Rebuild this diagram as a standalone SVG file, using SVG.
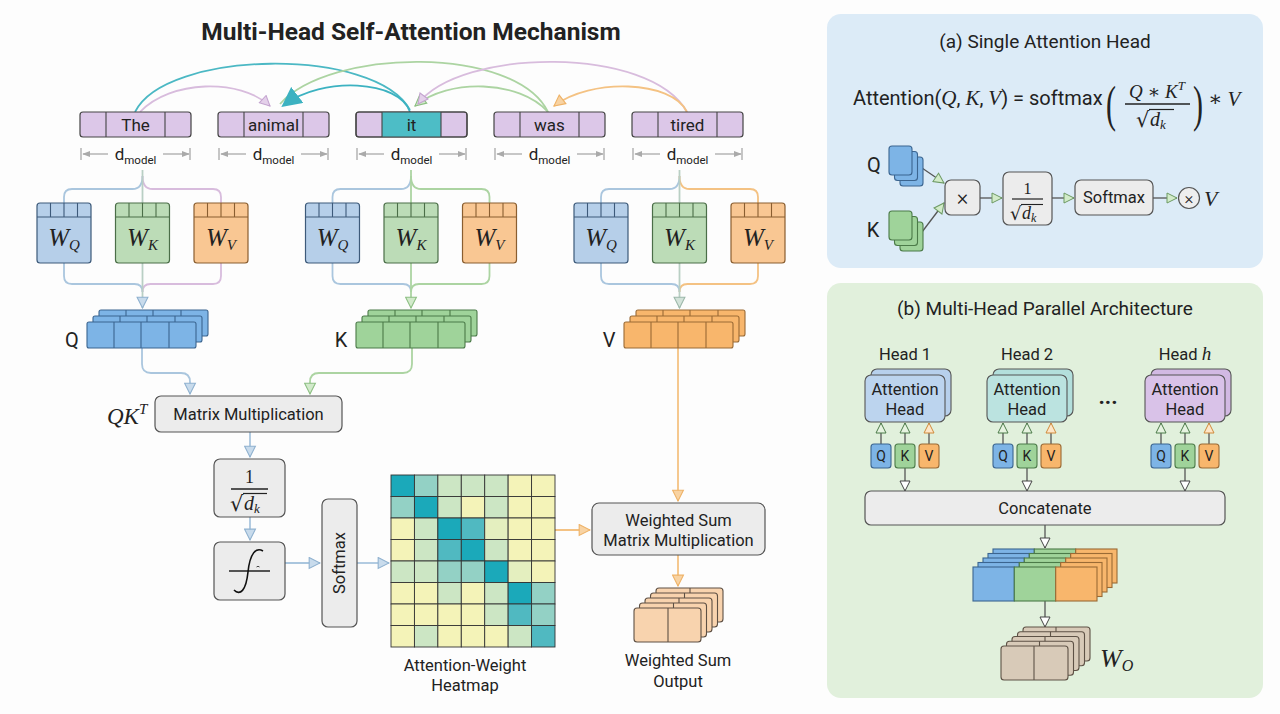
<svg xmlns="http://www.w3.org/2000/svg" width="1280" height="714" viewBox="0 0 1280 714">
<defs>
<style>
.s{font-family:Roboto,"Liberation Sans",sans-serif;fill:#222}
.m{font-family:"Liberation Serif","DejaVu Serif",serif;font-style:italic;fill:#222}
.box{fill:#ececec;stroke:#555;stroke-width:1.2}
.tok{fill:#dcc7e8;stroke:#444;stroke-width:1.2}
.dv{stroke:#444;stroke-width:1.1}
.c{fill:none;stroke-width:1.8}
.cb{stroke:#aac6de}.cg{stroke:#acd4a2}.co{stroke:#f4c283}.cp{stroke:#d8bcdd}.cgr{stroke:#b9cfc4}
.dm{stroke:#aaa;stroke-width:1.3;fill:none}
.qf{fill:#7db4e6;stroke:#3b6590;stroke-width:1.1}
.kf{fill:#9fd39a;stroke:#4b7a48;stroke-width:1.1}
.vf{fill:#f8b66c;stroke:#9a6a35;stroke-width:1.1}
.pf{fill:#f8d3ae;stroke:#5e5044;stroke-width:1.1}
.wf{fill:#d8cab8;stroke:#5e5246;stroke-width:1.1}
.hc rect{stroke:#333;stroke-width:0.9}
.D{fill:#1ba9ba}.M{fill:#50b9c1}.L{fill:#93d1c5}.P{fill:#cce6c4}.E{fill:#e4efbf}.Y{fill:#f4f3b8}
.ln{stroke:#555;stroke-width:1.3;fill:none}
</style>
<marker id="mB" viewBox="0 0 12 12" refX="11" refY="6" markerWidth="13" markerHeight="13" markerUnits="userSpaceOnUse" orient="auto"><path d="M1,1 L11,6 L1,11 z" fill="#c8dbec" stroke="#8fb1cf"/></marker>
<marker id="mG" viewBox="0 0 12 12" refX="11" refY="6" markerWidth="13" markerHeight="13" markerUnits="userSpaceOnUse" orient="auto"><path d="M1,1 L11,6 L1,11 z" fill="#d2eacb" stroke="#8cbf82"/></marker>
<marker id="mGr" viewBox="0 0 12 12" refX="11" refY="6" markerWidth="13" markerHeight="13" markerUnits="userSpaceOnUse" orient="auto"><path d="M1,1 L11,6 L1,11 z" fill="#d3e3da" stroke="#9cb8aa"/></marker>
<marker id="mO" viewBox="0 0 12 12" refX="11" refY="6" markerWidth="13" markerHeight="13" markerUnits="userSpaceOnUse" orient="auto"><path d="M1,1 L11,6 L1,11 z" fill="#f8d3a3" stroke="#eeb267"/></marker>
<marker id="mP" viewBox="0 0 12 12" refX="11" refY="6" markerWidth="12" markerHeight="12" markerUnits="userSpaceOnUse" orient="auto"><path d="M1,1 L11,6 L1,11 z" fill="#e4d0ea" stroke="#c3a3cf"/></marker>
<marker id="mT" viewBox="0 0 12 12" refX="10" refY="6" markerWidth="20" markerHeight="20" markerUnits="userSpaceOnUse" orient="auto"><path d="M0,0 L12,6 L0,12 z" fill="#3cb2c1"/></marker>
<marker id="mD" viewBox="0 0 10 10" refX="9" refY="5" markerWidth="8" markerHeight="8" markerUnits="userSpaceOnUse" orient="auto"><path d="M0,1 L10,5 L0,9 z" fill="#aaa"/></marker>
<marker id="mA" viewBox="0 0 12 12" refX="11" refY="6" markerWidth="12" markerHeight="12" markerUnits="userSpaceOnUse" orient="auto"><path d="M1,1 L11,6 L1,11 z" fill="#d2ebc9" stroke="#6d9a63"/></marker>
<marker id="mW" viewBox="0 0 12 12" refX="11" refY="6" markerWidth="12" markerHeight="12" markerUnits="userSpaceOnUse" orient="auto"><path d="M1,1 L11,6 L1,11 z" fill="#fff" stroke="#444"/></marker>
<marker id="mKg" viewBox="0 0 12 12" refX="11" refY="6" markerWidth="12" markerHeight="12" markerUnits="userSpaceOnUse" orient="auto"><path d="M1,1 L11,6 L1,11 z" fill="#e6f3e0" stroke="#4b7a48"/></marker>
<marker id="mKo" viewBox="0 0 12 12" refX="11" refY="6" markerWidth="12" markerHeight="12" markerUnits="userSpaceOnUse" orient="auto"><path d="M1,1 L11,6 L1,11 z" fill="#fde6c8" stroke="#d08a3a"/></marker>
</defs>
<rect width="1280" height="714" fill="#fdfdfd"/>

<text class="s" x="411" y="40" font-size="24.5" font-weight="bold" text-anchor="middle">Multi-Head Self-Attention Mechanism</text>

<!-- Panel backgrounds and titles -->
<g id="panel-a">
  <rect x="827" y="14" width="436" height="254" rx="14" fill="#dcebf7"/>
  <text class="s" x="1045" y="48" font-size="19" text-anchor="middle">(a) Single Attention Head</text>
  <text class="s" x="853" y="105" font-size="20">Attention(<tspan class="m" font-size="21">Q</tspan>, <tspan class="m" font-size="21">K</tspan>, <tspan class="m" font-size="21">V</tspan>) = softmax</text>
  <text transform="translate(1106,121) scale(1,1.7)" font-size="30" font-family="Liberation Serif,serif" fill="#222">(</text>
  <text class="m" x="1157" y="98" font-size="19" text-anchor="middle">Q <tspan font-style="normal">∗</tspan> K<tspan font-size="13" dy="-8">T</tspan></text>
  <path d="M1125,104 H1190" stroke="#222" stroke-width="1.3"/>
  <text x="1136" y="127" font-size="21" font-family="DejaVu Sans,sans-serif" fill="#222">√</text>
  <path d="M1149,109.5 H1174" stroke="#222" stroke-width="1.2"/>
  <text class="m" x="1150" y="126" font-size="20">d<tspan font-size="13" dy="3">k</tspan></text>
  <text transform="translate(1193,121) scale(1,1.7)" font-size="30" font-family="Liberation Serif,serif" fill="#222">)</text>
  <text class="m" x="1208" y="106" font-size="21"><tspan font-style="normal">∗</tspan> V</text>
</g>
<g id="panel-b">
  <rect x="827" y="283" width="436" height="415" rx="14" fill="#e1f0dc"/>
  <text class="s" x="1045" y="315" font-size="19" text-anchor="middle">(b) Multi-Head Parallel Architecture</text>
  <text class="s" x="1108" y="404" font-size="22" font-weight="bold" text-anchor="middle">...</text>
</g>

<!-- connectors -->
<g id="connectors">
  <path class="c" stroke="#4bb8c4" stroke-width="3" d="M135,112 C165,50 375,46 410,110"/>
  <path class="c cp" stroke-width="1.6" d="M140,112 C170,80 240,78 270,106" marker-end="url(#mP)"/>
  <path class="c cg" stroke-width="1.8" d="M548,112 C515,45 330,48 280,104"/>
  <path class="c cg" stroke-width="1.8" d="M548,112 C520,80 448,78 415,106" marker-end="url(#mG)"/>
  <path class="c cp" stroke-width="1.6" d="M687,112 C650,45 460,48 418,104" marker-end="url(#mP)"/>
  <path class="c co" stroke-width="1.8" d="M687,112 C672,80 590,78 554,106" marker-end="url(#mO)"/>
  <path class="c" stroke="#3cb2c1" stroke-width="5.5" d="M410,112 C400,80 322,76 284,105" marker-end="url(#mT)"/>

  <g class="dm">
    <path d="M81,148 V160 M190,148 V160"/>
    <path d="M219,148 V160 M328,148 V160"/>
    <path d="M357,148 V160 M466,148 V160"/>
    <path d="M495,148 V160 M604,148 V160"/>
    <path d="M633,148 V160 M742,148 V160"/>
    <path d="M108,154 H83" marker-end="url(#mD)"/><path d="M163,154 H189" marker-end="url(#mD)"/>
    <path d="M246,154 H221" marker-end="url(#mD)"/><path d="M301,154 H327" marker-end="url(#mD)"/>
    <path d="M384,154 H359" marker-end="url(#mD)"/><path d="M439,154 H465" marker-end="url(#mD)"/>
    <path d="M522,154 H497" marker-end="url(#mD)"/><path d="M577,154 H603" marker-end="url(#mD)"/>
    <path d="M660,154 H635" marker-end="url(#mD)"/><path d="M715,154 H741" marker-end="url(#mD)"/>
  </g>

  <path class="c cb" d="M142.5,176 Q142.5,189 132.5,189 H72 Q64,189 64,197 V203"/>
  <path class="c cp" d="M142.5,176 Q142.5,189 152.5,189 H213 Q221,189 221,197 V203"/>
  <path class="c cgr" d="M142.5,170 V203"/>
  <path class="c cb" d="M411,176 Q411,189 401,189 H340.5 Q332.5,189 332.5,197 V203"/>
  <path class="c cg" d="M411,176 Q411,189 421,189 H481.5 Q489.5,189 489.5,197 V203"/>
  <path class="c cg" d="M411,170 V203"/>
  <path class="c cb" d="M679.5,176 Q679.5,189 669.5,189 H609 Q601,189 601,197 V203"/>
  <path class="c co" d="M679.5,176 Q679.5,189 689.5,189 H750 Q758,189 758,197 V203"/>
  <path class="c cgr" d="M679.5,170 V203"/>

  <path class="c cb" d="M64,263 V276 Q64,284 72,284 H134.5 Q142.5,284 142.5,292"/>
  <path class="c cp" d="M221,263 V276 Q221,284 213,284 H150.5 Q142.5,284 142.5,292"/>
  <path class="c cgr" d="M142.5,263 V308" marker-end="url(#mB)"/>
  <path class="c cb" d="M332.5,263 V276 Q332.5,284 340.5,284 H403 Q411,284 411,292"/>
  <path class="c cg" d="M489.5,263 V276 Q489.5,284 481.5,284 H419 Q411,284 411,292"/>
  <path class="c cg" d="M411,263 V308" marker-end="url(#mG)"/>
  <path class="c cb" d="M601,263 V276 Q601,284 609,284 H671.5 Q679.5,284 679.5,292"/>
  <path class="c co" d="M758,263 V276 Q758,284 750,284 H687.5 Q679.5,284 679.5,292"/>
  <path class="c cgr" d="M679.5,263 V308" marker-end="url(#mGr)"/>

  <path class="c cb" d="M142,348 V364 Q142,373 151,373 H181 Q190,373 190,382 V394" marker-end="url(#mB)"/>
  <path class="c cg" d="M412,348 V364 Q412,373 403,373 H319 Q310,373 310,382 V394" marker-end="url(#mG)"/>
  <path class="c cb" d="M250,432 V457" marker-end="url(#mB)"/>
  <path class="c cb" d="M250,517 V540" marker-end="url(#mB)"/>
  <path class="c cb" d="M285,563 H320" marker-end="url(#mB)"/>
  <path class="c cb" d="M357,563 H389" marker-end="url(#mB)"/>
  <path class="c co" d="M555,530 H590" marker-end="url(#mO)"/>
  <path class="c co" d="M678,348 V501" marker-end="url(#mO)"/>
  <path class="c co" d="M678,555 V586" marker-end="url(#mO)"/>

  <path class="ln" stroke="#5d7a5a" d="M922,168 L944,183" marker-end="url(#mA)"/>
  <path class="ln" stroke="#5d7a5a" d="M922,232 L944,203" marker-end="url(#mA)"/>
  <path class="ln" stroke="#5d7a5a" d="M980,198 H1002" marker-end="url(#mA)"/>
  <path class="ln" stroke="#5d7a5a" d="M1052,198 H1074" marker-end="url(#mA)"/>
  <path class="ln" stroke="#5d7a5a" d="M1153,198 H1177" marker-end="url(#mA)"/>

  <path class="ln" d="M881,444 V423" marker-end="url(#mKg)"/>
  <path class="ln" d="M905,444 V423" marker-end="url(#mKg)"/>
  <path class="ln" d="M929,444 V423" marker-end="url(#mKo)"/>
  <path class="ln" d="M1003,444 V423" marker-end="url(#mKg)"/>
  <path class="ln" d="M1027,444 V423" marker-end="url(#mKg)"/>
  <path class="ln" d="M1051,444 V423" marker-end="url(#mKo)"/>
  <path class="ln" d="M1161,444 V423" marker-end="url(#mKg)"/>
  <path class="ln" d="M1185,444 V423" marker-end="url(#mKg)"/>
  <path class="ln" d="M1209,444 V423" marker-end="url(#mKo)"/>
  <path class="ln" d="M905,468 V491" marker-end="url(#mW)"/>
  <path class="ln" d="M1027,468 V491" marker-end="url(#mW)"/>
  <path class="ln" d="M1185,468 V491" marker-end="url(#mW)"/>
  <path class="ln" d="M1045,525 V548" marker-end="url(#mW)"/>
  <path class="ln" d="M1045,601 V627" marker-end="url(#mW)"/>
</g>

<!-- tokens -->
<g id="tok-the"><rect class="tok" x="80" y="112" width="111" height="25" rx="3"/><path class="dv" d="M106,112 V137 M165,112 V137"/><text class="s" x="135.5" y="130.5" font-size="17" text-anchor="middle">The</text></g>
<g id="tok-animal"><rect class="tok" x="218" y="112" width="111" height="25" rx="3"/><path class="dv" d="M244,112 V137 M303,112 V137"/><text class="s" x="273.5" y="130.5" font-size="17" text-anchor="middle">animal</text></g>
<g id="tok-it"><rect class="tok" x="356" y="112" width="111" height="25" rx="3"/><rect x="382" y="112" width="59" height="25" fill="#4dbdc6"/><path class="dv" d="M382,112 V137 M441,112 V137"/><rect x="356" y="112" width="111" height="25" rx="3" fill="none" stroke="#444" stroke-width="1.2"/><text class="s" x="411.5" y="130.5" font-size="17" text-anchor="middle">it</text></g>
<g id="tok-was"><rect class="tok" x="494" y="112" width="111" height="25" rx="3"/><path class="dv" d="M520,112 V137 M579,112 V137"/><text class="s" x="549.5" y="130.5" font-size="17" text-anchor="middle">was</text></g>
<g id="tok-tired"><rect class="tok" x="632" y="112" width="111" height="25" rx="3"/><path class="dv" d="M658,112 V137 M717,112 V137"/><text class="s" x="687.5" y="130.5" font-size="17" text-anchor="middle">tired</text></g>

<g id="dmodel-labels" class="s" font-size="17" text-anchor="middle">
  <text x="135.5" y="160">d<tspan font-size="11.5" dy="4">model</tspan></text>
  <text x="273.5" y="160">d<tspan font-size="11.5" dy="4">model</tspan></text>
  <text x="411.5" y="160">d<tspan font-size="11.5" dy="4">model</tspan></text>
  <text x="549.5" y="160">d<tspan font-size="11.5" dy="4">model</tspan></text>
  <text x="687.5" y="160">d<tspan font-size="11.5" dy="4">model</tspan></text>
</g>

<!-- W matrices -->
<g id="w-group1">
  <rect x="37" y="203" width="54" height="60" rx="3" fill="#b6cfe9" stroke="#3d5a7a" stroke-width="1.2"/><path d="M37,217 H91 M50.5,203 V217 M64,203 V217 M77.5,203 V217" stroke="#3d5a7a" stroke-width="1.1"/>
  <text class="m" x="64" y="246" font-size="25" text-anchor="middle">W<tspan font-size="15" dy="4">Q</tspan></text>
  <rect x="115.5" y="203" width="54" height="60" rx="3" fill="#bcdcb7" stroke="#4b6e48" stroke-width="1.2"/><path d="M115.5,217 H169.5 M129,203 V217 M142.5,203 V217 M156,203 V217" stroke="#4b6e48" stroke-width="1.1"/>
  <text class="m" x="142.5" y="246" font-size="25" text-anchor="middle">W<tspan font-size="15" dy="4">K</tspan></text>
  <rect x="194" y="203" width="54" height="60" rx="3" fill="#f9c793" stroke="#8a5e30" stroke-width="1.2"/><path d="M194,217 H248 M207.5,203 V217 M221,203 V217 M234.5,203 V217" stroke="#8a5e30" stroke-width="1.1"/>
  <text class="m" x="221" y="246" font-size="25" text-anchor="middle">W<tspan font-size="15" dy="4">V</tspan></text>
</g>
<g id="w-group2">
  <rect x="305.5" y="203" width="54" height="60" rx="3" fill="#b6cfe9" stroke="#3d5a7a" stroke-width="1.2"/><path d="M305.5,217 H359.5 M319,203 V217 M332.5,203 V217 M346,203 V217" stroke="#3d5a7a" stroke-width="1.1"/>
  <text class="m" x="332.5" y="246" font-size="25" text-anchor="middle">W<tspan font-size="15" dy="4">Q</tspan></text>
  <rect x="384" y="203" width="54" height="60" rx="3" fill="#bcdcb7" stroke="#4b6e48" stroke-width="1.2"/><path d="M384,217 H438 M397.5,203 V217 M411,203 V217 M424.5,203 V217" stroke="#4b6e48" stroke-width="1.1"/>
  <text class="m" x="411" y="246" font-size="25" text-anchor="middle">W<tspan font-size="15" dy="4">K</tspan></text>
  <rect x="462.5" y="203" width="54" height="60" rx="3" fill="#f9c793" stroke="#8a5e30" stroke-width="1.2"/><path d="M462.5,217 H516.5 M476,203 V217 M489.5,203 V217 M503,203 V217" stroke="#8a5e30" stroke-width="1.1"/>
  <text class="m" x="489.5" y="246" font-size="25" text-anchor="middle">W<tspan font-size="15" dy="4">V</tspan></text>
</g>
<g id="w-group3">
  <rect x="574" y="203" width="54" height="60" rx="3" fill="#b6cfe9" stroke="#3d5a7a" stroke-width="1.2"/><path d="M574,217 H628 M587.5,203 V217 M601,203 V217 M614.5,203 V217" stroke="#3d5a7a" stroke-width="1.1"/>
  <text class="m" x="601" y="246" font-size="25" text-anchor="middle">W<tspan font-size="15" dy="4">Q</tspan></text>
  <rect x="652.5" y="203" width="54" height="60" rx="3" fill="#bcdcb7" stroke="#4b6e48" stroke-width="1.2"/><path d="M652.5,217 H706.5 M666,203 V217 M679.5,203 V217 M693,203 V217" stroke="#4b6e48" stroke-width="1.1"/>
  <text class="m" x="679.5" y="246" font-size="25" text-anchor="middle">W<tspan font-size="15" dy="4">K</tspan></text>
  <rect x="731" y="203" width="54" height="60" rx="3" fill="#f9c793" stroke="#8a5e30" stroke-width="1.2"/><path d="M731,217 H785 M744.5,203 V217 M758,203 V217 M771.5,203 V217" stroke="#8a5e30" stroke-width="1.1"/>
  <text class="m" x="758" y="246" font-size="25" text-anchor="middle">W<tspan font-size="15" dy="4">V</tspan></text>
</g>

<!-- Q K V stacks -->
<g id="q-stack">
  <rect class="qf" x="99" y="310" width="109" height="26" rx="2"/><path class="qf" d="M126,310 V336 M153,310 V336 M181,310 V336"/>
  <rect class="qf" x="93" y="316" width="109" height="26" rx="2"/><path class="qf" d="M120,316 V342 M147,316 V342 M175,316 V342"/>
  <rect class="qf" x="87" y="322" width="109" height="26" rx="2"/><path class="qf" d="M114,322 V348 M141,322 V348 M169,322 V348"/>
  <text class="s" x="72" y="347" font-size="20" text-anchor="middle">Q</text>
</g>
<g id="k-stack">
  <rect class="kf" x="368" y="310" width="109" height="26" rx="2"/><path class="kf" d="M395,310 V336 M422,310 V336 M450,310 V336"/>
  <rect class="kf" x="362" y="316" width="109" height="26" rx="2"/><path class="kf" d="M389,316 V342 M416,316 V342 M444,316 V342"/>
  <rect class="kf" x="356" y="322" width="109" height="26" rx="2"/><path class="kf" d="M383,322 V348 M410,322 V348 M438,322 V348"/>
  <text class="s" x="341" y="347" font-size="20" text-anchor="middle">K</text>
</g>
<g id="v-stack">
  <rect class="vf" x="636" y="310" width="109" height="26" rx="2"/><path class="vf" d="M663,310 V336 M690,310 V336 M718,310 V336"/>
  <rect class="vf" x="630" y="316" width="109" height="26" rx="2"/><path class="vf" d="M657,316 V342 M684,316 V342 M712,316 V342"/>
  <rect class="vf" x="624" y="322" width="109" height="26" rx="2"/><path class="vf" d="M651,322 V348 M678,322 V348 M706,322 V348"/>
  <text class="s" x="609" y="347" font-size="20" text-anchor="middle">V</text>
</g>

<g id="matmul">
  <rect class="box" x="155" y="396" width="187" height="36" rx="6"/>
  <text class="s" x="248.5" y="420" font-size="16.5" text-anchor="middle">Matrix Multiplication</text>
  <text class="m" x="107" y="424" font-size="23">QK<tspan font-size="15" dy="-10">T</tspan></text>
</g>
<g id="scale">
  <rect class="box" x="214" y="459" width="71" height="58" rx="6"/>
  <text x="249.5" y="483" font-size="18" font-family="Liberation Serif,serif" fill="#222" text-anchor="middle">1</text>
  <path d="M231,489 H268" stroke="#222" stroke-width="1.3"/>
  <text x="230" y="511" font-size="21" font-family="DejaVu Sans,sans-serif" fill="#222">√</text>
  <path d="M243,493.5 H267" stroke="#222" stroke-width="1.2"/>
  <text class="m" x="244" y="510" font-size="20">d<tspan font-size="13" dy="3">k</tspan></text>
</g>
<g id="sigmoid">
  <rect class="box" x="214" y="542" width="71" height="58" rx="6"/>
  <path d="M229,571 H270" stroke="#222" stroke-width="1.4" fill="none"/>
  <path d="M234,590 C240,596 246,591 248,572 C250,553 256,547 263,551" stroke="#111" stroke-width="1.6" fill="none"/>
  <path d="M256.5,567 q1.5,-1.5 3,0" stroke="#333" stroke-width="0.9" fill="none"/>
</g>
<g id="softmax">
  <rect class="box" x="322" y="499" width="35" height="128" rx="6"/>
  <text class="s" transform="translate(345,563) rotate(-90)" font-size="16.5" text-anchor="middle">Softmax</text>
</g>

<g id="heatmap" class="hc">
  <rect class="D" x="391" y="475" width="23.43" height="21.5"/><rect class="L" x="414.43" y="475" width="23.43" height="21.5"/><rect class="P" x="437.86" y="475" width="23.43" height="21.5"/><rect class="P" x="461.29" y="475" width="23.43" height="21.5"/><rect class="P" x="484.71" y="475" width="23.43" height="21.5"/><rect class="Y" x="508.14" y="475" width="23.43" height="21.5"/><rect class="Y" x="531.57" y="475" width="23.43" height="21.5"/>
  <rect class="L" x="391" y="496.5" width="23.43" height="21.5"/><rect class="D" x="414.43" y="496.5" width="23.43" height="21.5"/><rect class="P" x="437.86" y="496.5" width="23.43" height="21.5"/><rect class="Y" x="461.29" y="496.5" width="23.43" height="21.5"/><rect class="P" x="484.71" y="496.5" width="23.43" height="21.5"/><rect class="Y" x="508.14" y="496.5" width="23.43" height="21.5"/><rect class="Y" x="531.57" y="496.5" width="23.43" height="21.5"/>
  <rect class="Y" x="391" y="518" width="23.43" height="21.5"/><rect class="P" x="414.43" y="518" width="23.43" height="21.5"/><rect class="D" x="437.86" y="518" width="23.43" height="21.5"/><rect class="M" x="461.29" y="518" width="23.43" height="21.5"/><rect class="E" x="484.71" y="518" width="23.43" height="21.5"/><rect class="Y" x="508.14" y="518" width="23.43" height="21.5"/><rect class="Y" x="531.57" y="518" width="23.43" height="21.5"/>
  <rect class="Y" x="391" y="539.5" width="23.43" height="21.5"/><rect class="P" x="414.43" y="539.5" width="23.43" height="21.5"/><rect class="M" x="437.86" y="539.5" width="23.43" height="21.5"/><rect class="D" x="461.29" y="539.5" width="23.43" height="21.5"/><rect class="P" x="484.71" y="539.5" width="23.43" height="21.5"/><rect class="Y" x="508.14" y="539.5" width="23.43" height="21.5"/><rect class="Y" x="531.57" y="539.5" width="23.43" height="21.5"/>
  <rect class="P" x="391" y="561" width="23.43" height="21.5"/><rect class="P" x="414.43" y="561" width="23.43" height="21.5"/><rect class="L" x="437.86" y="561" width="23.43" height="21.5"/><rect class="L" x="461.29" y="561" width="23.43" height="21.5"/><rect class="D" x="484.71" y="561" width="23.43" height="21.5"/><rect class="E" x="508.14" y="561" width="23.43" height="21.5"/><rect class="Y" x="531.57" y="561" width="23.43" height="21.5"/>
  <rect class="Y" x="391" y="582.5" width="23.43" height="21.5"/><rect class="Y" x="414.43" y="582.5" width="23.43" height="21.5"/><rect class="P" x="437.86" y="582.5" width="23.43" height="21.5"/><rect class="Y" x="461.29" y="582.5" width="23.43" height="21.5"/><rect class="P" x="484.71" y="582.5" width="23.43" height="21.5"/><rect class="D" x="508.14" y="582.5" width="23.43" height="21.5"/><rect class="L" x="531.57" y="582.5" width="23.43" height="21.5"/>
  <rect class="Y" x="391" y="604" width="23.43" height="21.5"/><rect class="Y" x="414.43" y="604" width="23.43" height="21.5"/><rect class="Y" x="437.86" y="604" width="23.43" height="21.5"/><rect class="Y" x="461.29" y="604" width="23.43" height="21.5"/><rect class="P" x="484.71" y="604" width="23.43" height="21.5"/><rect class="M" x="508.14" y="604" width="23.43" height="21.5"/><rect class="L" x="531.57" y="604" width="23.43" height="21.5"/>
  <rect class="Y" x="391" y="625.5" width="23.43" height="21.5"/><rect class="P" x="414.43" y="625.5" width="23.43" height="21.5"/><rect class="Y" x="437.86" y="625.5" width="23.43" height="21.5"/><rect class="Y" x="461.29" y="625.5" width="23.43" height="21.5"/><rect class="Y" x="484.71" y="625.5" width="23.43" height="21.5"/><rect class="P" x="508.14" y="625.5" width="23.43" height="21.5"/><rect class="M" x="531.57" y="625.5" width="23.43" height="21.5"/>
  <text class="s" x="465" y="671" font-size="16.5" text-anchor="middle">Attention-Weight</text>
  <text class="s" x="465" y="691" font-size="16.5" text-anchor="middle">Heatmap</text>
</g>

<g id="weighted-sum">
  <rect class="box" x="592" y="503" width="173" height="52" rx="7"/>
  <text class="s" x="678.5" y="526" font-size="16.5" text-anchor="middle">Weighted Sum</text>
  <text class="s" x="678.5" y="546" font-size="16.5" text-anchor="middle">Matrix Multiplication</text>
</g>
<g id="ws-output">
  <rect class="pf" x="656" y="588" width="67" height="34" rx="3"/><path class="pf" d="M690,588 V622"/>
  <rect class="pf" x="650.5" y="593" width="67" height="34" rx="3"/><path class="pf" d="M684.5,593 V627"/>
  <rect class="pf" x="645" y="598" width="67" height="34" rx="3"/><path class="pf" d="M679,598 V632"/>
  <rect class="pf" x="639.5" y="603" width="67" height="34" rx="3"/><path class="pf" d="M673.5,603 V637"/>
  <rect class="pf" x="634" y="608" width="67" height="34" rx="3"/><path class="pf" d="M668,608 V642"/>
  <text class="s" x="678" y="666" font-size="16.5" text-anchor="middle">Weighted Sum</text>
  <text class="s" x="678" y="687" font-size="16.5" text-anchor="middle">Output</text>
</g>

<!-- Panel a nodes -->
<g id="a-q">
  <rect class="qf" x="900" y="157" width="23" height="29" rx="3"/>
  <rect class="qf" x="894.5" y="151.5" width="23" height="29" rx="3"/>
  <rect class="qf" x="889" y="146" width="23" height="29" rx="3"/>
  <text class="s" x="874" y="172" font-size="20" text-anchor="middle">Q</text>
</g>
<g id="a-k">
  <rect class="kf" x="900" y="222" width="23" height="29" rx="3"/>
  <rect class="kf" x="894.5" y="216.5" width="23" height="29" rx="3"/>
  <rect class="kf" x="889" y="211" width="23" height="29" rx="3"/>
  <text class="s" x="873" y="237" font-size="20" text-anchor="middle">K</text>
</g>
<g id="a-mul"><rect class="box" x="945" y="180" width="35" height="35" rx="6"/><text class="s" x="962.5" y="205" font-size="22" font-weight="300" text-anchor="middle">×</text></g>
<g id="a-scale">
  <rect class="box" x="1003" y="172" width="49" height="53" rx="6"/>
  <text x="1027.5" y="194" font-size="16" font-family="Liberation Serif,serif" fill="#222" text-anchor="middle">1</text>
  <path d="M1012,199 H1043" stroke="#222" stroke-width="1.2"/>
  <text x="1010" y="220" font-size="18" font-family="DejaVu Sans,sans-serif" fill="#222">√</text>
  <path d="M1021,204.5 H1043" stroke="#222" stroke-width="1.1"/>
  <text class="m" x="1022" y="219" font-size="18">d<tspan font-size="12" dy="3">k</tspan></text>
</g>
<g id="a-softmax"><rect class="box" x="1075" y="180" width="78" height="35" rx="6"/><text class="s" x="1114" y="203" font-size="16.5" text-anchor="middle">Softmax</text></g>
<g id="a-mulv">
  <circle cx="1189" cy="198" r="10.5" fill="#eee" stroke="#555" stroke-width="1.2"/>
  <text class="s" x="1189" y="203.5" font-size="17" font-weight="300" text-anchor="middle">×</text>
  <text class="m" x="1204" y="206" font-size="22">V</text>
</g>

<!-- Panel b nodes -->
<g id="head1">
  <text class="s" x="905" y="360" font-size="16.5" text-anchor="middle">Head 1</text>
  <rect x="871" y="369" width="80" height="47" rx="6" fill="#b7d0ec" stroke="#555" stroke-width="1.1"/>
  <rect x="865" y="375" width="80" height="47" rx="6" fill="#bcd4ee" stroke="#555" stroke-width="1.1"/>
  <text class="s" x="905" y="395" font-size="16.5" text-anchor="middle">Attention</text>
  <text class="s" x="905" y="415" font-size="16.5" text-anchor="middle">Head</text>
  <rect class="qf" x="871" y="444" width="20" height="24" rx="3"/><text class="s" x="881" y="461" font-size="14" text-anchor="middle">Q</text>
  <rect class="kf" x="895" y="444" width="20" height="24" rx="3"/><text class="s" x="905" y="461" font-size="14" text-anchor="middle">K</text>
  <rect class="vf" x="919" y="444" width="20" height="24" rx="3"/><text class="s" x="929" y="461" font-size="14" text-anchor="middle">V</text>
</g>
<g id="head2">
  <text class="s" x="1027" y="360" font-size="16.5" text-anchor="middle">Head 2</text>
  <rect x="993" y="369" width="80" height="47" rx="6" fill="#b3dfdc" stroke="#555" stroke-width="1.1"/>
  <rect x="987" y="375" width="80" height="47" rx="6" fill="#bbe3e0" stroke="#555" stroke-width="1.1"/>
  <text class="s" x="1027" y="395" font-size="16.5" text-anchor="middle">Attention</text>
  <text class="s" x="1027" y="415" font-size="16.5" text-anchor="middle">Head</text>
  <rect class="qf" x="993" y="444" width="20" height="24" rx="3"/><text class="s" x="1003" y="461" font-size="14" text-anchor="middle">Q</text>
  <rect class="kf" x="1017" y="444" width="20" height="24" rx="3"/><text class="s" x="1027" y="461" font-size="14" text-anchor="middle">K</text>
  <rect class="vf" x="1041" y="444" width="20" height="24" rx="3"/><text class="s" x="1051" y="461" font-size="14" text-anchor="middle">V</text>
</g>
<g id="headh">
  <text class="s" x="1185" y="360" font-size="16.5" text-anchor="middle">Head <tspan class="m" font-size="19">h</tspan></text>
  <rect x="1151" y="369" width="80" height="47" rx="6" fill="#d2b9e3" stroke="#555" stroke-width="1.1"/>
  <rect x="1145" y="375" width="80" height="47" rx="6" fill="#d9c2e8" stroke="#555" stroke-width="1.1"/>
  <text class="s" x="1185" y="395" font-size="16.5" text-anchor="middle">Attention</text>
  <text class="s" x="1185" y="415" font-size="16.5" text-anchor="middle">Head</text>
  <rect class="qf" x="1151" y="444" width="20" height="24" rx="3"/><text class="s" x="1161" y="461" font-size="14" text-anchor="middle">Q</text>
  <rect class="kf" x="1175" y="444" width="20" height="24" rx="3"/><text class="s" x="1185" y="461" font-size="14" text-anchor="middle">K</text>
  <rect class="vf" x="1199" y="444" width="20" height="24" rx="3"/><text class="s" x="1209" y="461" font-size="14" text-anchor="middle">V</text>
</g>
<g id="concat">
  <rect class="box" x="865" y="491" width="360" height="34" rx="6"/>
  <text class="s" x="1045" y="514" font-size="16.5" text-anchor="middle">Concatenate</text>
</g>
<g id="concat-stack">
  <rect class="qf" x="993" y="549" width="41.3" height="34"/><rect class="kf" x="1034.3" y="549" width="41.4" height="34"/><rect class="vf" x="1075.7" y="549" width="41.3" height="34"/>
  <rect class="qf" x="988" y="553.5" width="41.3" height="34"/><rect class="kf" x="1029.3" y="553.5" width="41.4" height="34"/><rect class="vf" x="1070.7" y="553.5" width="41.3" height="34"/>
  <rect class="qf" x="983" y="558" width="41.3" height="34"/><rect class="kf" x="1024.3" y="558" width="41.4" height="34"/><rect class="vf" x="1065.7" y="558" width="41.3" height="34"/>
  <rect class="qf" x="978" y="562.5" width="41.3" height="34"/><rect class="kf" x="1019.3" y="562.5" width="41.4" height="34"/><rect class="vf" x="1060.7" y="562.5" width="41.3" height="34"/>
  <rect class="qf" x="973" y="567" width="41.3" height="34"/><rect class="kf" x="1014.3" y="567" width="41.4" height="34"/><rect class="vf" x="1055.7" y="567" width="41.3" height="34"/>
</g>
<g id="wo-stack">
  <rect class="wf" x="1023" y="627" width="67" height="34" rx="3"/><path class="wf" d="M1056,627 V661"/>
  <rect class="wf" x="1017.5" y="631.75" width="67" height="34" rx="3"/><path class="wf" d="M1050.5,631.75 V665.75"/>
  <rect class="wf" x="1012" y="636.5" width="67" height="34" rx="3"/><path class="wf" d="M1045,636.5 V670.5"/>
  <rect class="wf" x="1006.5" y="641.25" width="67" height="34" rx="3"/><path class="wf" d="M1039.5,641.25 V675.25"/>
  <rect class="wf" x="1001" y="646" width="67" height="34" rx="3"/><path class="wf" d="M1034,646 V680"/>
  <text class="m" x="1100" y="667" font-size="26">W<tspan font-size="16" dy="4">O</tspan></text>
</g>
</svg>
